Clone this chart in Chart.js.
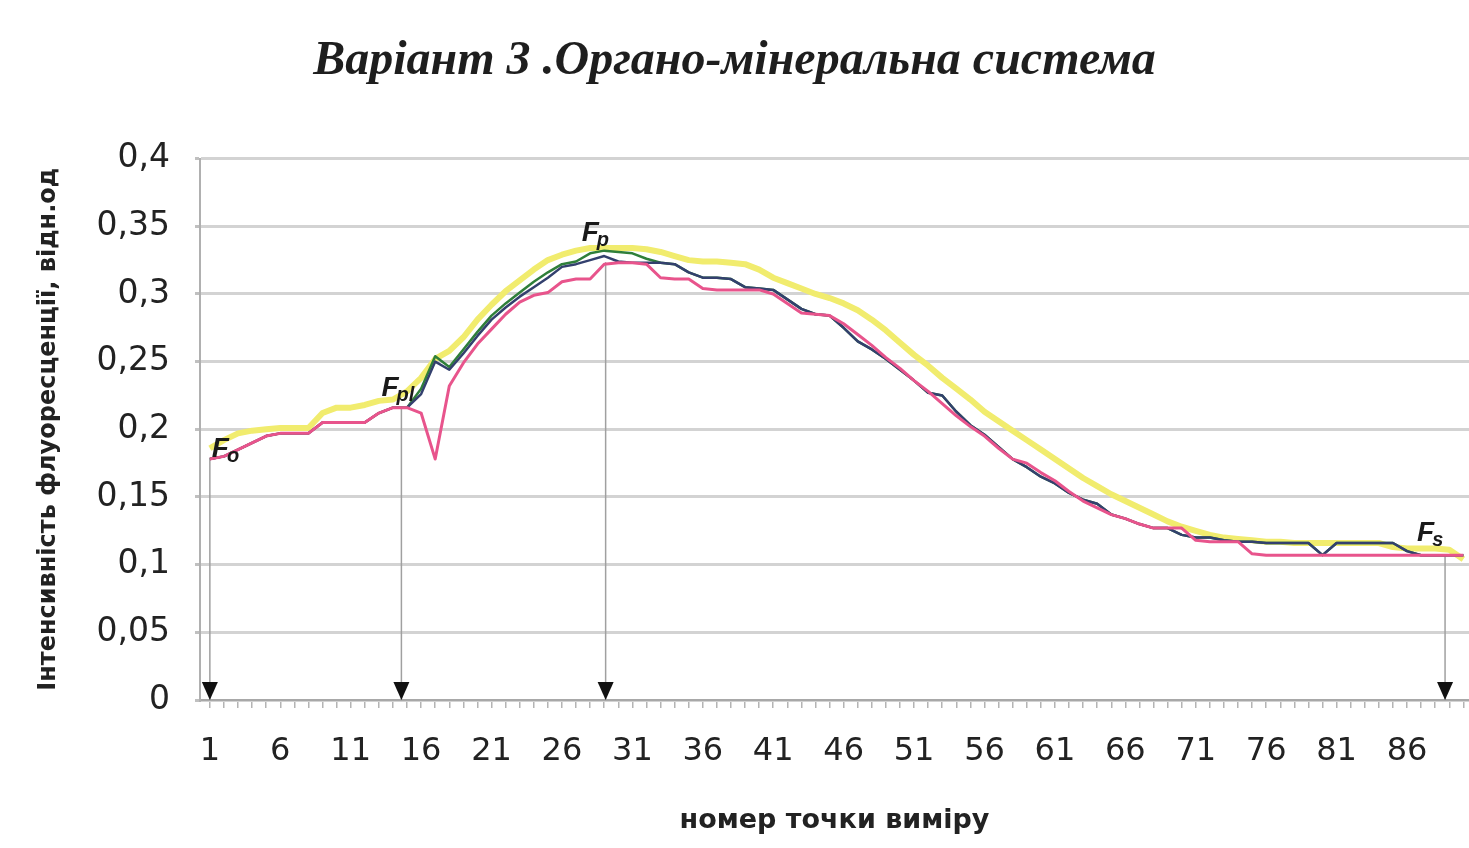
<!DOCTYPE html>
<html>
<head>
<meta charset="utf-8">
<script src="https://cdn.jsdelivr.net/npm/chart.js@4.4.0/dist/chart.umd.min.js"></script>
<style>
html,body{margin:0;padding:0;background:#fff;overflow:hidden;}
</style>
</head>
<body>
<canvas id="linechart" width="1469" height="848"></canvas>
<script>
// values, points 1..90
var yellowVals=[0.186,0.192,0.197,0.199,0.200,0.201,0.201,0.201,0.212,0.216,
  0.216,0.218,0.221,0.222,0.228,0.238,0.252,0.258,0.268,0.281,
  0.292,0.302,0.310,0.318,0.325,0.329,0.332,0.334,0.334,0.334,
  0.334,0.333,0.331,0.328,0.325,0.324,0.324,0.323,0.322,0.318,
  0.312,0.308,0.304,0.300,0.297,0.293,0.288,0.281,0.273,0.264,
  0.255,0.247,0.238,0.230,0.222,0.213,0.206,0.199,0.192,0.185,
  0.178,0.171,0.164,0.158,0.152,0.147,0.142,0.137,0.132,0.128,
  0.125,0.122,0.120,0.119,0.118,0.117,0.117,0.116,0.116,0.116,
  0.116,0.116,0.116,0.116,0.113,0.112,0.112,0.112,0.111,0.104];
var greenVals=[0.178,0.180,0.185,0.190,0.195,0.197,0.197,0.197,0.205,0.205,
  0.205,0.205,0.212,0.216,0.216,0.230,0.254,0.246,0.259,0.272,
  0.284,0.293,0.301,0.309,0.316,0.322,0.324,0.330,0.332,0.331,
  0.330,0.326,0.323,0.322,0.316,0.312,0.312,0.311,0.305,0.304,
  0.303,0.296,0.289,0.285,0.284,0.275,0.265,0.259,0.252,0.244,
  0.236,0.227,0.225,0.213,0.203,0.196,0.187,0.178,0.172,0.165,
  0.160,0.153,0.148,0.145,0.137,0.134,0.130,0.127,0.127,0.122,
  0.120,0.120,0.118,0.117,0.117,0.116,0.116,0.116,0.116,0.107,
  0.116,0.116,0.116,0.116,0.116,0.110,0.107,0.107,0.107,0.107];
var blueVals=[0.178,0.180,0.185,0.190,0.195,0.197,0.197,0.197,0.205,0.205,
  0.205,0.205,0.212,0.216,0.216,0.226,0.250,0.244,0.256,0.269,
  0.281,0.290,0.298,0.305,0.312,0.320,0.322,0.325,0.328,0.324,
  0.323,0.323,0.323,0.322,0.316,0.312,0.312,0.311,0.305,0.304,
  0.303,0.296,0.289,0.285,0.284,0.275,0.265,0.259,0.252,0.244,
  0.236,0.227,0.225,0.213,0.203,0.196,0.187,0.178,0.172,0.165,
  0.160,0.153,0.148,0.145,0.137,0.134,0.130,0.127,0.127,0.122,
  0.120,0.120,0.118,0.117,0.117,0.116,0.116,0.116,0.116,0.107,
  0.116,0.116,0.116,0.116,0.116,0.110,0.107,0.107,0.107,0.107];
var pinkVals=[0.178,0.180,0.185,0.190,0.195,0.197,0.197,0.197,0.205,0.205,
  0.205,0.205,0.212,0.216,0.216,0.212,0.178,0.232,0.249,0.263,
  0.274,0.285,0.294,0.299,0.301,0.309,0.311,0.311,0.322,0.323,
  0.323,0.322,0.312,0.311,0.311,0.304,0.303,0.303,0.303,0.303,
  0.300,0.293,0.286,0.285,0.284,0.278,0.270,0.262,0.253,0.245,
  0.236,0.228,0.219,0.210,0.202,0.195,0.186,0.178,0.175,0.168,
  0.162,0.154,0.147,0.142,0.137,0.134,0.130,0.127,0.127,0.127,
  0.118,0.117,0.117,0.117,0.108,0.107,0.107,0.107,0.107,0.107,
  0.107,0.107,0.107,0.107,0.107,0.107,0.107,0.107,0.107,0.107];

var xLabels=[1,6,11,16,21,26,31,36,41,46,51,56,61,66,71,76,81,86];
var yTicks=[0,0.05,0.1,0.15,0.2,0.25,0.3,0.35,0.4];

// characteristic points: Fo, Fpl, Fp, Fs
var markX=[1,14.6,29.1,88.7];
var markY=[0.178,0.216,0.323,0.107];
var markSub=['o','pl','p','s'];

var markOff=[[2,-2],[-20,-12],[-24,-22],[-28,-14]];

function pts(vals){
  return vals.map(function(v,i){return {x:i+1,y:v};});
}
var catIdx=pinkVals.map(function(v,i){return i+1;});

var dropSets=markX.map(function(mx,i){
  return {data:[{x:mx,y:markY[i]},{x:mx,y:0}],borderColor:'#a0a0a0',borderWidth:1.5,pointRadius:0,order:10};
});

var markPlugin={
  id:'marks',
  afterDatasetsDraw:function(chart){
    var ctx=chart.ctx, xs=chart.scales.x, ys=chart.scales.y;
    var y0=ys.getPixelForValue(0);
    ctx.save();
    markX.forEach(function(mx,i){
      var px=xs.getPixelForValue(mx);
      ctx.fillStyle='#111';
      ctx.beginPath();
      ctx.moveTo(px-8,y0-18);
      ctx.lineTo(px+8,y0-18);
      ctx.lineTo(px,y0);
      ctx.closePath();
      ctx.fill();
      var ly=ys.getPixelForValue(markY[i])+markOff[i][1];
      var lx=px+markOff[i][0];
      ctx.fillStyle='#1a1a1a';
      ctx.textBaseline='alphabetic';
      ctx.font='italic bold 28px "Liberation Sans"';
      ctx.fillText('F',lx,ly);
      var w=ctx.measureText('F').width;
      ctx.font='italic bold 20px "Liberation Sans"';
      ctx.fillText(markSub[i],lx+w-2,ly+5);
    });
    ctx.restore();
  }
};

var chart=new Chart(document.getElementById('linechart'),{
  type:'line',
  data:{
    datasets:[
      {data:pts(pinkVals),borderColor:'#e8548c',borderWidth:3,order:1},
      {data:pts(blueVals),borderColor:'#33406e',borderWidth:2.5,order:2},
      {data:pts(greenVals),borderColor:'#2f7f3a',borderWidth:2.5,order:3},
      {data:pts(yellowVals),borderColor:'#f1ec6e',borderWidth:6,order:4}
    ].concat(dropSets)
  },
  options:{
    responsive:false,
    animation:false,
    elements:{point:{radius:0,hoverRadius:0},line:{tension:0,borderJoinStyle:'round'}},
    layout:{autoPadding:false,padding:{left:0,right:0,bottom:0,top:0}},
    plugins:{
      legend:{display:false},
      tooltip:{enabled:false},
      title:{
        display:true,
        text:'Варіант 3 .Органо-мінеральна система',
        color:'#1e1e1e',
        font:{family:'"Liberation Serif"',size:48,style:'italic',weight:'bold'},
        padding:{top:33,bottom:68}
      }
    },
    scales:{
      x:{
        type:'linear',
        min:0.3,
        max:90.4,
        afterBuildTicks:function(s){s.ticks=catIdx.map(function(v){return {value:v};});},
        afterFit:function(s){s.height=148;s.paddingRight=0;},
        grid:{drawOnChartArea:false,tickLength:8,tickColor:'#b4b4b4',lineWidth:1.5},
        border:{color:'#a8a8a8',width:2},
        ticks:{
          autoSkip:false,maxRotation:0,padding:24,color:'#222',
          font:{family:'"DejaVu Sans"',size:32},
          callback:function(v){return xLabels.indexOf(v)>=0?String(v):'';}
        },
        title:{display:true,text:'номер точки виміру',color:'#222',
          font:{family:'"DejaVu Sans"',size:27,weight:'bold'},padding:{top:0,bottom:11}}
      },
      y:{
        min:0,
        max:0.4,
        afterBuildTicks:function(s){s.ticks=yTicks.map(function(v){return {value:v};});},
        afterFit:function(s){s.width=200;},
        grid:{color:'#d3d3d3',lineWidth:3,tickLength:5,tickColor:'#c0c0c0'},
        border:{color:'#b0b0b0',width:2},
        ticks:{
          padding:25,color:'#222',
          font:{family:'"DejaVu Sans"',size:33},
          callback:function(v){return String(+v.toFixed(2)).replace('.',',');}
        },
        title:{display:true,text:'Інтенсивність флуоресценції, відн.од',color:'#222',
          font:{family:'"DejaVu Sans"',size:24,weight:'bold'},padding:{top:34,bottom:0}}
      }
    }
  },
  plugins:[markPlugin]
});
</script>
</body>
</html>
